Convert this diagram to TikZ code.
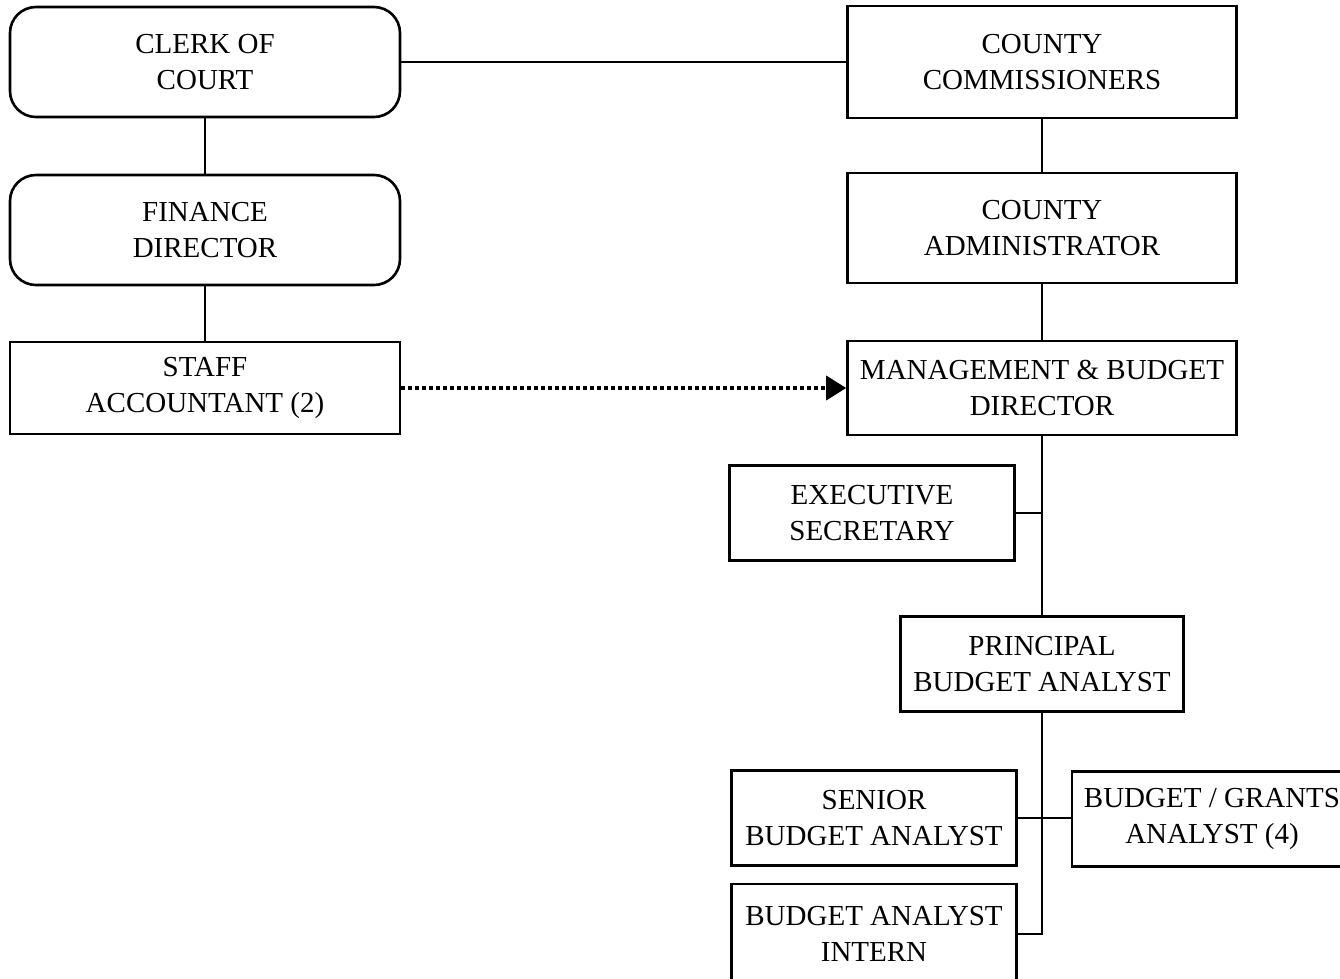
\documentclass[tikz,border=0pt]{standalone}
\usepackage{fontspec}
\setmainfont{Liberation Serif}
\usetikzlibrary{arrows.meta}
\begin{document}
\begin{tikzpicture}[x=1pt,y=-1pt,
  box/.style={draw=black,line width=2.6pt,rectangle,align=center,inner sep=0pt,
    font=\fontsize{29}{36}\selectfont},
  roundbox/.style={box,rounded corners=26pt},
  link/.style={draw=black,line width=2.2pt},
  dotlink/.style={draw=black,line width=3.6pt,dash pattern=on 3.6pt off 3.4pt,
    -{Triangle[length=20pt,width=24pt]}}]
\clip (0,0) rectangle (1340,978);
\fill[white] (0,0) rectangle (1340,978);

% left column: court and finance
\node[roundbox,minimum width=390pt,minimum height=110pt] (clerk) at (205,62) {CLERK OF\\COURT};
\node[roundbox,minimum width=390pt,minimum height=110pt] (finance) at (205,230) {FINANCE\\DIRECTOR};
\node[box,minimum width=390pt,minimum height=92pt] (staff) at (205,388) {STAFF\\ACCOUNTANT (2)};

% right column: county administration
\node[box,minimum width=389pt,minimum height=112pt] (comm) at (1042,62) {COUNTY\\COMMISSIONERS};
\node[box,minimum width=389pt,minimum height=110pt] (admin) at (1042,228) {COUNTY\\ADMINISTRATOR};
\node[box,minimum width=389pt,minimum height=94pt] (mgmt) at (1042,388) {MANAGEMENT \& BUDGET\\DIRECTOR};

% budget office staff
\node[box,minimum width=285pt,minimum height=95pt] (exec) at (872,513) {EXECUTIVE\\SECRETARY};
\node[box,minimum width=283pt,minimum height=95pt] (principal) at (1042,664) {PRINCIPAL\\BUDGET ANALYST};
\node[box,minimum width=285pt,minimum height=95pt] (senior) at (874,818) {SENIOR\\BUDGET ANALYST};
\node[box,minimum width=280pt,minimum height=95pt] (grants) at (1212,819) {BUDGET / GRANTS\\ANALYST (4)};
\node[box,minimum width=285pt,minimum height=100pt] (intern) at (874,934) {BUDGET ANALYST\\INTERN};

% reporting lines
\draw[link] (clerk.east) -- (comm.west);
\draw[link] (clerk.south) -- (finance.north);
\draw[link] (finance.south) -- (staff.north);
\draw[link] (comm.south) -- (admin.north);
\draw[link] (admin.south) -- (mgmt.north);
\draw[link] (mgmt.south) -- (principal.north);
\draw[link] (exec.east) -- (exec.east -| mgmt.south);
\draw[link] (senior.east) -- (senior.east -| grants.west);
\draw[link] (principal.south) |- (intern.east);

% dotted coordination line
\draw[dotlink] (staff.east) -- (mgmt.west);
\end{tikzpicture}
\end{document}
